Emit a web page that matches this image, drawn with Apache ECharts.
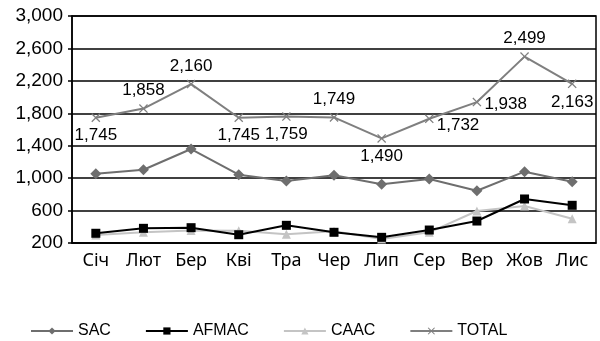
<!DOCTYPE html>
<html>
<head>
<meta charset="utf-8">
<script src="https://cdn.jsdelivr.net/npm/echarts@6/dist/echarts.min.js"></script>
<style>
  html, body { margin: 0; padding: 0; background: #fff; }
  #chart { width: 600px; height: 341px; }
</style>
</head>
<body>
<div id="chart"></div>
<script>
const months = ["Січ", "Лют", "Бер", "Кві", "Тра", "Чер", "Лип", "Сер", "Вер", "Жов", "Лис"];
const sac = [1055, 1104, 1359, 1043, 965, 1035, 924, 989, 845, 1080, 956];
const afmac = [320, 381, 389, 302, 418, 332, 270, 360, 471, 743, 665];
const caac = [300, 332, 355, 350, 307, 345, 250, 332, 595, 656, 500];
const total = [1745, 1858, 2160, 1745, 1759, 1749, 1490, 1732, 1938, 2499, 2163];
// where each TOTAL label sits
const totalLabelPos = ["bottom", "top", "top", "bottom", "bottom", "top", "bottom", "right", "right", "top", "bottom"];

const chart = echarts.init(document.getElementById("chart"));

const fmt = (v) => v.toLocaleString("en-US");
const crossPath = "path://M0,1L1,0L5,4L9,0L10,1L6,5L10,9L9,10L5,6L1,10L0,9L4,5Z";

const totalData = total.map((v, i) => {
  const pos = totalLabelPos[i];
  const label = { position: pos };
  if (pos === "right") label.offset = [-2, i === 7 ? 7 : 2];
  if (pos === "bottom") label.distance = 5;
  if (pos === "top") label.distance = 5;
  return { value: v, label: label };
});

const option = {
  animation: false,
  grid: {
    left: 72,
    right: 4,
    top: 16,
    bottom: 98,
    show: true,
    borderColor: "#000",
    borderWidth: 1.5
  },
  xAxis: {
    type: "category",
    data: months,
    boundaryGap: true,
    axisLine: { lineStyle: { color: "#000", width: 1.5 } },
    axisTick: { alignWithLabel: true, interval: 0, length: 5, lineStyle: { color: "#000", width: 1.5 } },
    axisLabel: {
      color: "#000",
      fontFamily: "Noto Sans",
      fontSize: 18,
      interval: 0,
      hideOverlap: false,
      margin: 9
    }
  },
  yAxis: {
    type: "value",
    min: 200,
    max: 3000,
    interval: 400,
    axisLine: { show: true, lineStyle: { color: "#000", width: 1.5 } },
    axisTick: { show: true, length: 4, lineStyle: { color: "#000", width: 1.5 } },
    splitLine: { lineStyle: { color: "#000", width: 1.5 } },
    axisLabel: {
      color: "#000",
      fontFamily: "Liberation Sans",
      fontSize: 19,
      margin: 9,
      formatter: fmt
    }
  },
  legend: {
    left: 25,
    top: 318,
    itemWidth: 42,
    itemHeight: 9,
    itemGap: 34,
    textStyle: { color: "#000", fontFamily: "Liberation Sans", fontSize: 16 },
    data: ["SAC", "AFMAC", "CAAC", "TOTAL"]
  },
  series: [
    {
      name: "SAC",
      type: "line",
      data: sac,
      symbol: "diamond",
      symbolSize: 11,
      lineStyle: { color: "#6e6e6e", width: 2 },
      itemStyle: { color: "#6e6e6e" }
    },
    {
      name: "AFMAC",
      type: "line",
      data: afmac,
      symbol: "rect",
      symbolSize: 9,
      lineStyle: { color: "#000", width: 2 },
      itemStyle: { color: "#000" }
    },
    {
      name: "CAAC",
      type: "line",
      data: caac,
      symbol: "triangle",
      symbolSize: 9,
      z: 1,
      lineStyle: { color: "#c4c4c4", width: 2 },
      itemStyle: { color: "#c4c4c4" }
    },
    {
      name: "TOTAL",
      type: "line",
      data: totalData,
      symbol: crossPath,
      symbolSize: 9,
      lineStyle: { color: "#7f7f7f", width: 2 },
      itemStyle: { color: "#7f7f7f" },
      label: {
        show: true,
        color: "#000",
        fontFamily: "Liberation Sans",
        fontSize: 17,
        formatter: (p) => fmt(p.value)
      }
    }
  ]
};

chart.setOption(option);
</script>
</body>
</html>
